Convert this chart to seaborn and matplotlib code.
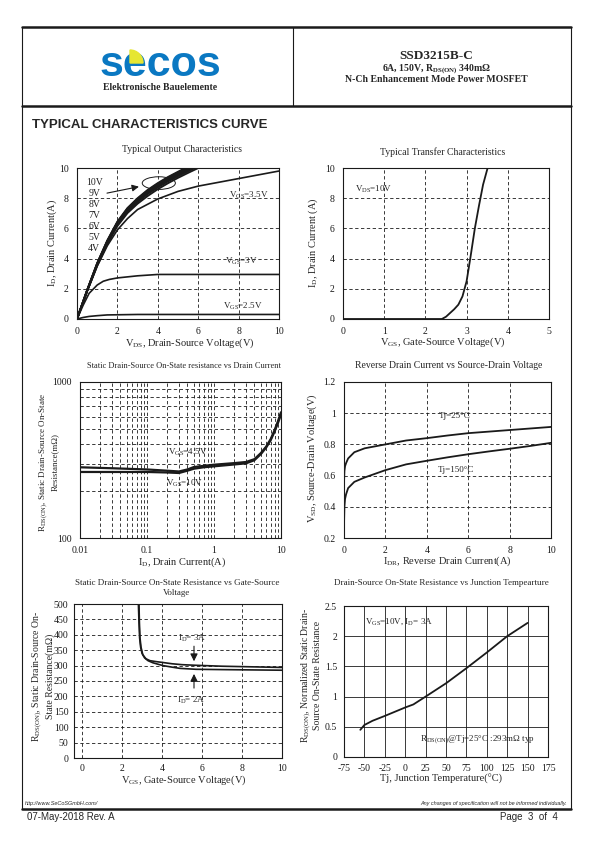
import numpy as np
import pandas as pd
import seaborn as sns
import matplotlib.pyplot as plt
from matplotlib.lines import Line2D
from matplotlib.patches import Ellipse, Wedge
from matplotlib.ticker import NullFormatter

# ---- curve values ----
# typical output characteristics, VDS (V) vs ID (A)
vds_out = [0, 0.5, 1, 1.5, 2, 2.5, 3, 3.5, 4, 4.5, 5, 5.5, 6]
id_10v = [0, 1.9, 3.7, 5.2, 6.45, 7.35, 8.0, 8.55, 9.0, 9.4, 9.75, 10.1, 10.4]
id_9v = [0, 1.9, 3.68, 5.17, 6.41, 7.31, 7.96, 8.5, 8.95, 9.35, 9.7, 10.05, 10.35]
id_8v = [0, 1.89, 3.66, 5.15, 6.38, 7.28, 7.92, 8.46, 8.9, 9.3, 9.65, 10.0, 10.3]
id_7v = [0, 1.88, 3.64, 5.12, 6.35, 7.25, 7.88, 8.42, 8.86, 9.25, 9.6, 9.95, 10.25]
id_6v = [0, 1.87, 3.62, 5.09, 6.31, 7.2, 7.83, 8.36, 8.8, 9.2, 9.55, 9.88, 10.2]
id_5v = [0, 1.86, 3.59, 5.04, 6.25, 7.13, 7.76, 8.28, 8.72, 9.11, 9.46, 9.79, 10.1]
id_4v = [0, 1.84, 3.54, 4.97, 6.16, 7.02, 7.64, 8.15, 8.6, 8.99, 9.35, 9.68, 10.0]
vds_35 = [0, 0.5, 1, 1.5, 2, 2.5, 3, 4, 5, 6, 7, 8, 9, 10]
id_35 = [0, 1.83, 3.5, 4.85, 5.9, 6.65, 7.25, 7.95, 8.45, 8.8, 9.05, 9.3, 9.55, 9.8]
vds_3 = [0, 0.3, 0.6, 1, 1.3, 1.6, 2, 3, 4, 5, 6, 8, 10]
id_3 = [0, 0.9, 1.7, 2.25, 2.5, 2.62, 2.72, 2.86, 2.95, 2.95, 2.95, 2.95, 2.95]
vds_25 = [0, 0.3, 0.6, 1, 1.5, 2, 3, 5, 10]
id_25 = [0, 0.1, 0.17, 0.22, 0.27, 0.28, 0.3, 0.3, 0.3]
gate_labels = ["10V", "9V", "8V", "7V", "6V", "5V", "4V"]

# typical transfer characteristics, VGS (V) vs ID (A)
vgs_tr = [0, 0.5, 1, 1.5, 2, 2.4, 2.5, 2.6, 2.7, 2.8, 2.9, 3.0, 3.1, 3.2, 3.3, 3.4, 3.5, 3.55]
id_tr = [0, 0, 0, 0, 0, 0, 0.15, 0.4, 0.65, 0.95, 1.5, 2.5, 4.2, 6.0, 7.5, 8.9, 9.9, 10.3]

# RDS(on) vs drain current (mOhm)
id_rds = [0.01, 0.03, 0.1, 0.2, 0.3, 0.4, 0.5, 0.7, 1, 2, 3, 4, 5, 6, 7, 8, 9, 10]
rds_45v = [284, 280, 275, 270, 267, 275, 285, 290, 295, 302, 307, 320, 350, 385, 430, 490, 560, 640]
rds_10v = [265, 265, 265, 263, 261, 270, 278, 284, 288, 296, 301, 315, 345, 380, 423, 480, 545, 620]

# reverse drain current vs source-drain voltage
idr = [0, 0.02, 0.05, 0.1, 0.2, 0.5, 1, 2, 3, 4, 5, 6, 7, 8, 9, 10]
vsd_25c = [0.55, 0.63, 0.66, 0.68, 0.71, 0.75, 0.775, 0.80, 0.825, 0.84, 0.857, 0.872, 0.882, 0.892, 0.902, 0.912]
vsd_150c = [0.28, 0.40, 0.45, 0.48, 0.52, 0.56, 0.588, 0.635, 0.672, 0.695, 0.717, 0.737, 0.755, 0.772, 0.79, 0.81]

# RDS(on) vs gate-source voltage
vgs_3a = [2.85, 2.87, 2.9, 2.95, 3.04, 3.2, 3.4, 3.7, 4.05, 4.5, 5, 5.7, 7, 8.5, 10]
rds_3a = [500, 440, 390, 360, 335, 322, 316, 313, 310, 306, 303, 301, 298, 296, 294]
vgs_2a = [2.82, 2.85, 2.88, 2.93, 3.0, 3.13, 3.3, 3.55, 4.05, 4.5, 4.9, 5.7, 7, 8.5, 10]
rds_2a = [500, 440, 390, 360, 340, 325, 316, 309, 300, 295, 291, 288, 287, 286, 285]

# normalized RDS(on) vs junction temperature
tj = [-55, -50, -40, -25, 0, 10, 25, 50, 75, 100, 125, 150]
rds_norm = [0.45, 0.53, 0.6, 0.68, 0.82, 0.87, 1.0, 1.22, 1.47, 1.73, 2.0, 2.22]

# ---- page setup ----
W, H = 595, 842
sns.set_theme(style="white")
plt.rcParams["font.family"] = ["Liberation Serif", "DejaVu Serif"]
plt.rcParams["axes.unicode_minus"] = False
plt.rcParams["mathtext.default"] = "regular"

fig = plt.figure(figsize=(W / 100, H / 100), dpi=100)


def ptext(x, y, s, **kw):
    # text placed in page pixels (origin top-left)
    kw.setdefault("ha", "center")
    kw.setdefault("va", "center")
    fig.text(x / W, 1 - y / H, s, **kw)


def pline(x0, y0, x1, y1, lw):
    fig.add_artist(Line2D([x0 / W, x1 / W], [1 - y0 / H, 1 - y1 / H],
                          transform=fig.transFigure, color="k", lw=lw))


def px_axes(x0, y0, x1, y1):
    ax = fig.add_axes([x0 / W, 1 - y1 / H, (x1 - x0) / W, (y1 - y0) / H])
    return ax


def style(ax, dashed=True, pad=6):
    for s in ax.spines.values():
        s.set_color("k")
        s.set_linewidth(0.8)
    ax.tick_params(which="both", length=0, labelsize=7, pad=pad, colors="k")
    ax.set_xlabel("")
    ax.set_ylabel("")
    if dashed:
        ax.grid(True, which="both", color="k", lw=0.6, ls=(0, (4, 3)))
    else:
        ax.grid(True, which="major", color="k", lw=0.6, ls="-")


# frame of the page
pline(22, 27, 571, 27, 1.8)
pline(22, 106, 571, 106, 1.8)
pline(22, 809, 571, 809, 1.8)
pline(22, 27, 22, 809, 0.8)
pline(571, 27, 571, 809, 0.8)
pline(293, 27, 293, 106, 0.8)

# header
ptext(160, 76, "secos", family="Liberation Sans", weight="bold", size=31,
      color="#0a78c2", va="baseline")
fig.add_artist(Wedge((1.30, (H - 63) / 100), 0.13, 0, 90, color="#e6e632",
                     transform=fig.dpi_scale_trans, zorder=5))
ptext(160, 88, "Elektronische Bauelemente", weight="bold", size=7)
ptext(436, 56, "SSD3215B-C", weight="bold", size=9.5)
ptext(436, 69, r"6A, 150V, R$_{DS(ON)}$ 340mΩ", weight="bold", size=7)
ptext(436, 79, "N-Ch Enhancement Mode Power MOSFET", weight="bold", size=7)
ptext(32, 125, "TYPICAL CHARACTERISTICS CURVE", family="Liberation Sans",
      weight="bold", size=9.5, ha="left")

# footer
ptext(25, 803, "http://www.SeCoSGmbH.com/", family="Liberation Sans",
      style="italic", size=4, ha="left")
ptext(567, 803, "Any changes of specification will not be informed individually.",
      family="Liberation Sans", style="italic", size=4, ha="right")
ptext(27, 817, "07-May-2018 Rev. A", family="Liberation Sans", size=7, ha="left")
ptext(558, 817, "Page  3  of  4", family="Liberation Sans", size=7, ha="right")

# ---- 1: typical output characteristics ----
out_rows = []
for lab, ys in zip(gate_labels, [id_10v, id_9v, id_8v, id_7v, id_6v, id_5v, id_4v]):
    out_rows += [(v, i, lab) for v, i in zip(vds_out, ys)]
out_df = pd.DataFrame(out_rows, columns=["vds", "id", "vgs"])
low_df = pd.concat([
    pd.DataFrame({"vds": vds_35, "id": id_35, "vgs": "3.5V"}),
    pd.DataFrame({"vds": vds_3, "id": id_3, "vgs": "3V"}),
    pd.DataFrame({"vds": vds_25, "id": id_25, "vgs": "2.5V"}),
])

ax1 = px_axes(77, 168, 279, 319)
sns.lineplot(data=out_df, x="vds", y="id", units="vgs", estimator=None,
             color="k", lw=1.4, ax=ax1, legend=False)
sns.lineplot(data=low_df, x="vds", y="id", units="vgs", estimator=None,
             color="k", lw=1.2, ax=ax1, legend=False)
ax1.set_xlim(0, 10)
ax1.set_ylim(0, 10)
ax1.set_xticks(range(0, 11, 2))
ax1.set_yticks(range(0, 11, 2))
style(ax1)
for k, lab in enumerate(gate_labels):
    ax1.text(0.85, 9.07 - k * 0.73, lab, size=7, ha="center", va="center", color="#222")
ax1.add_patch(Ellipse((4.05, 9.0), 1.64, 0.84, fill=False, lw=0.7, color="k"))
ax1.annotate("", xy=(3.2, 8.8), xytext=(1.35, 8.3),
             arrowprops=dict(arrowstyle="-|>", color="k", lw=0.8, mutation_scale=10))
ax1.text(8.5, 8.2, r"V$_{GS}$=3.5V", size=6.5, ha="center", va="center")
ax1.text(8.15, 3.8, r"V$_{GS}$=3V", size=6.5, ha="center", va="center")
ax1.text(8.2, 0.86, r"V$_{GS}$=2.5V", size=6.5, ha="center", va="center")
ptext(182, 150, "Typical Output Characteristics", size=7)
ptext(52, 243, r"I$_D$, Drain Current(A)", size=7.5, rotation=90)
ptext(190, 343, r"V$_{DS}$, Drain-Source Voltage(V)", size=7.5)

# ---- 2: typical transfer characteristics ----
ax2 = px_axes(343, 168, 549, 319)
sns.lineplot(x=vgs_tr, y=id_tr, color="k", lw=1.3, ax=ax2)
ax2.set_xlim(0, 5)
ax2.set_ylim(0, 10)
ax2.set_xticks(range(0, 6))
ax2.set_yticks(range(0, 11, 2))
style(ax2)
ax2.text(0.3, 8.56, r"V$_{DS}$=10V", size=6.5, ha="left", va="center")
ptext(443, 152, "Typical Transfer Characteristics", size=7)
ptext(313, 243, r"I$_D$, Drain Current (A)", size=7.5, rotation=90)
ptext(443, 342, r"V$_{GS}$, Gate-Source Voltage(V)", size=7.5)

# ---- 3: RDS(on) vs drain current ----
rds_df = pd.concat([
    pd.DataFrame({"id": id_rds, "rds": rds_45v, "vgs": "4.5V"}),
    pd.DataFrame({"id": id_rds, "rds": rds_10v, "vgs": "10V"}),
])
ax3 = px_axes(80, 382, 281, 538)
sns.lineplot(data=rds_df, x="id", y="rds", units="vgs", estimator=None,
             color="k", lw=1.6, ax=ax3, legend=False)
ax3.set_xscale("log")
ax3.set_yscale("log")
ax3.set_xlim(0.01, 10)
ax3.set_ylim(100, 1000)
ax3.set_xticks([0.01, 0.1, 1, 10])
ax3.set_xticklabels(["0.01", "0.1", "1", "10"])
ax3.set_yticks([100, 1000])
ax3.set_yticklabels(["100", "1000"])
ax3.xaxis.set_minor_formatter(NullFormatter())
ax3.yaxis.set_minor_formatter(NullFormatter())
style(ax3)
ax3.text(0.4, 356, r"V$_{GS}$=4.5V", size=6.5, ha="center", va="center")
ax3.text(0.37, 225, r"V$_{GS}$=10V", size=6.5, ha="center", va="center")
ptext(184, 366, "Static Drain-Source On-State resistance vs Drain Current", size=6)
ptext(48, 462, "R$_{DS(ON)}$, Static Drain-Source On-State\nResistance(mΩ)",
      size=6.5, rotation=90, linespacing=1.2)
ptext(182, 562, r"I$_D$, Drain Current(A)", size=7.5)

# ---- 4: reverse drain current vs source-drain voltage ----
vsd_df = pd.concat([
    pd.DataFrame({"idr": idr, "vsd": vsd_25c, "tj": "25"}),
    pd.DataFrame({"idr": idr, "vsd": vsd_150c, "tj": "150"}),
])
ax4 = px_axes(344, 382, 551, 538)
sns.lineplot(data=vsd_df, x="idr", y="vsd", units="tj", estimator=None,
             color="k", lw=1.3, ax=ax4, legend=False)
ax4.set_xlim(0, 10)
ax4.set_ylim(0.2, 1.2)
ax4.set_xticks(range(0, 11, 2))
ax4.set_yticks([0.2, 0.4, 0.6, 0.8, 1.0, 1.2])
ax4.set_yticklabels(["0.2", "0.4", "0.6", "0.8", "1", "1.2"])
style(ax4)
ax4.text(5.35, 0.98, "Tj=25°C", size=6.5, ha="center", va="center")
ax4.text(5.43, 0.636, "Tj=150°C", size=6.5, ha="center", va="center")
ptext(449, 366, "Reverse Drain Current vs Source-Drain Voltage", size=7)
ptext(312, 458, r"V$_{SD}$, Source-Drain Voltage(V)", size=7.5, rotation=90)
ptext(447, 561, r"I$_{DR}$, Reverse Drain Current(A)", size=7.5)

# ---- 5: RDS(on) vs gate-source voltage ----
vg_df = pd.concat([
    pd.DataFrame({"vgs": vgs_3a, "rds": rds_3a, "id": "3A"}),
    pd.DataFrame({"vgs": vgs_2a, "rds": rds_2a, "id": "2A"}),
])
ax5 = px_axes(74, 604, 282, 758)
sns.lineplot(data=vg_df, x="vgs", y="rds", units="id", estimator=None, sort=False,
             color="k", lw=1.2, ax=ax5, legend=False)
ax5.set_xlim(-0.4, 10)
ax5.set_ylim(0, 500)
ax5.set_xticks(range(0, 11, 2))
ax5.set_yticks(range(0, 501, 50))
style(ax5, pad=4)
ax5.annotate("", xy=(5.6, 305), xytext=(5.6, 372),
             arrowprops=dict(arrowstyle="-|>", color="k", lw=0.8, mutation_scale=11))
ax5.annotate("", xy=(5.6, 282), xytext=(5.6, 218),
             arrowprops=dict(arrowstyle="-|>", color="k", lw=0.8, mutation_scale=11))
ax5.text(5.5, 388, r"I$_D$= 3A", size=6.5, ha="center", va="center")
ax5.text(5.45, 188, r"I$_D$= 2A", size=6.5, ha="center", va="center")
ptext(177, 588, "Static Drain-Source On-State Resistance vs Gate-Source\nVoltage",
      size=6.5, linespacing=1.3)
ptext(43, 676, "R$_{DS(ON)}$, Static Drain-Source On-\nState Resistance(mΩ)",
      size=7, rotation=90, linespacing=1.1)
ptext(184, 780, r"V$_{GS}$, Gate-Source Voltage(V)", size=7.5)

# ---- 6: normalized RDS(on) vs junction temperature ----
ax6 = px_axes(344, 606, 548, 757)
sns.lineplot(x=tj, y=rds_norm, color="k", lw=1.3, ax=ax6)
ax6.set_xlim(-75, 175)
ax6.set_ylim(0, 2.5)
ax6.set_xticks(range(-75, 176, 25))
ax6.set_yticks([0, 0.5, 1, 1.5, 2, 2.5])
ax6.set_yticklabels(["0", "0.5", "1", "1.5", "2", "2.5"])
style(ax6, dashed=False, pad=5)
ax6.text(-49.7, 2.24, r"V$_{GS}$=10V, I$_D$= 3A", size=6.5, ha="left", va="center")
ax6.text(17.7, 0.29, r"R$_{DS(ON)}$@Tj=25°C :293mΩ typ", size=6.5, ha="left", va="center")
ptext(441, 583, "Drain-Source On-State Resistance vs Junction Tempearture", size=6.5)
ptext(311, 675, "R$_{DS(ON)}$, Normalized Static Drain-\nSource On-State Resistance",
      size=7, rotation=90, linespacing=1.1)
ptext(441, 779, "Tj, Junction Temperature(°C)", size=7.5)

fig.savefig("out.png", dpi=100)
